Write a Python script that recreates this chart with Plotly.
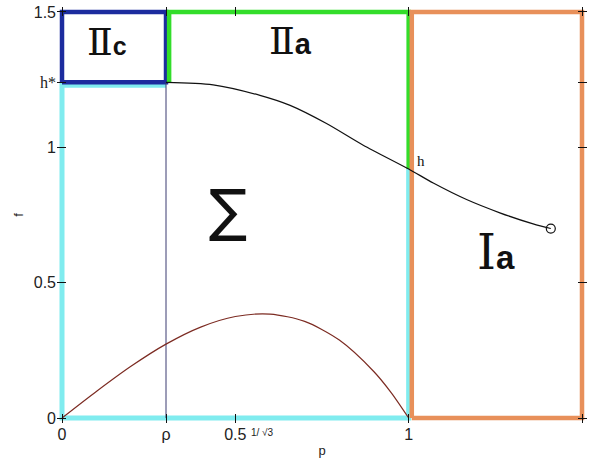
import plotly.graph_objects as go

# Key parameter values on the axes
RHO = 0.30          # boundary between region IIc and IIa
H_STAR = 1.24       # h*
H_AT_ONE = 0.92     # h, value of the upper curve at p = 1
P_MAX = 1.5
F_MAX = 1.5
INV_SQRT3 = 0.577   # 1/sqrt(3)

# Upper curve f(p), from p = rho up to the end point
upper_p = [0.30, 0.436, 0.571, 0.658, 0.763, 0.869, 1.00, 1.071, 1.167, 1.263, 1.359, 1.41]
upper_f = [1.24, 1.231, 1.192, 1.155, 1.088, 1.008, 0.92, 0.868, 0.807, 0.758, 0.717, 0.70]

# Lower curve f(p) on [0, 1]
lower_p = [0.0, 0.1, 0.2, 0.3, 0.4, 0.5, 0.6, 0.7, 0.8, 0.9, 0.95, 1.0]
lower_f = [0.0, 0.099, 0.192, 0.273, 0.336, 0.375, 0.384, 0.357, 0.288, 0.171, 0.093, 0.0]

# Open end point of the upper curve
end_p = [1.41]
end_f = [0.70]

# Tick labels
x_ticks = [0, RHO, 0.5, 1, 1.5]
x_ticktext = ["0", "ρ", "0.5", "1", "1.5"]
y_ticks = [0, 0.5, 1, H_STAR, 1.5]
y_ticktext = ["0", "0.5", "1", "<span style='font-family:Liberation Serif'>h*</span>", "1.5"]

# Region labels: (numeral, letter, p, f, numeral size, letter size)
region_labels = [
    ("Ⅱ", "c", 0.13, 1.39, 38, 25),
    ("Ⅱ", "a", 0.66, 1.393, 38, 29),
    ("Ⅰ", "a", 1.252, 0.615, 48, 33),
]
SIGMA = ("∑", 0.478, 0.768, 57)

# colours
C_BLUE = "#1c2c9e"
C_GREEN = "#33dd2a"
C_CYAN = "#80ecef"
C_ORANGE = "#e8905a"
C_RHO = "#3a3a70"
C_LOWER = "#7c2b22"

# small data-space gaps so touching region edges sit side by side
GX = 0.009
GY = 0.011

fig = go.Figure()


def edge(xs, ys, color, width=4.5):
    fig.add_trace(go.Scatter(x=xs, y=ys, mode="lines", hoverinfo="skip",
                             line=dict(color=color, width=width)))


# Σ region (cyan)
edge([RHO, 0, 0, 1, 1], [H_STAR - GY, H_STAR - GY, 0, 0, H_AT_ONE], C_CYAN, 5)
# IIc region (dark blue)
edge([0, 0, RHO, RHO, 0], [H_STAR, F_MAX, F_MAX, H_STAR, H_STAR], C_BLUE)
# IIa region (green)
edge([RHO + GX, RHO + GX, 1, 1], [H_STAR, F_MAX, F_MAX, H_AT_ONE], C_GREEN)
# Ia region (orange)
edge([1 + GX, 1 + GX, P_MAX, P_MAX, 1 + GX], [0, F_MAX, F_MAX, 0, 0], C_ORANGE)

# vertical line at rho
fig.add_trace(go.Scatter(x=[RHO, RHO], y=[0, H_STAR], mode="lines", hoverinfo="skip",
                         line=dict(color=C_RHO, width=1)))

# curves
fig.add_trace(go.Scatter(x=lower_p, y=lower_f, mode="lines", hoverinfo="skip",
                         line=dict(color=C_LOWER, width=1.2, shape="spline", smoothing=0.8)))
fig.add_trace(go.Scatter(x=upper_p, y=upper_f, mode="lines", hoverinfo="skip",
                         line=dict(color="#111111", width=1.2, shape="spline", smoothing=0.8)))
fig.add_trace(go.Scatter(x=end_p, y=end_f, mode="markers", hoverinfo="skip",
                         marker=dict(symbol="circle-open", size=9, color="#111111",
                                     line=dict(width=1.2))))

for num, letter, px, py, s_num, s_let in region_labels:
    txt = (f"<span style='font-family:DejaVu Serif;font-size:{s_num}px'>{num}</span>"
           f"<span style='font-family:Liberation Sans;font-weight:bold;font-size:{s_let}px'>{letter}</span>")
    fig.add_annotation(x=px, y=py, text=txt, showarrow=False,
                       font=dict(family="DejaVu Serif", size=s_num, color="#111111"))

fig.add_annotation(x=SIGMA[1], y=SIGMA[2], text=SIGMA[0], showarrow=False,
                   font=dict(family="DejaVu Sans", size=SIGMA[3], color="#111111"))

# label for h at p = 1
fig.add_annotation(x=1, y=H_AT_ONE, text="h", showarrow=False, xshift=12, yshift=8,
                   font=dict(family="Liberation Serif", size=15, color="#111111"))
# extra tick label 1/sqrt(3)
fig.add_annotation(x=INV_SQRT3, y=0, text="1/ √3", showarrow=False, yref="y",
                   yshift=-14, font=dict(family="Liberation Sans", size=10, color="#222222"))

PX = 5 / (520 / 1.5)
PY = 5 / (409 / 1.5)

fig.update_layout(
    width=593, height=472,
    margin=dict(l=57, r=6, t=4, b=49),
    paper_bgcolor="white", plot_bgcolor="white",
    showlegend=False,
    font=dict(family="Liberation Sans", size=16, color="#222222"),
    xaxis=dict(range=[-PX, P_MAX + PX], tickvals=x_ticks, ticktext=x_ticktext,
               ticks="inside", ticklen=9, tickcolor="#111111", mirror="ticks",
               showgrid=False, zeroline=False, showline=False,
               title=dict(text="p", font=dict(size=13), standoff=3)),
    yaxis=dict(range=[-PY, F_MAX + PY], tickvals=y_ticks, ticktext=y_ticktext,
               ticks="inside", ticklen=9, tickcolor="#111111", mirror="ticks",
               showgrid=False, zeroline=False, showline=False,
               title=dict(text="f", font=dict(size=13), standoff=7)),
)

fig.write_html("out.html")
